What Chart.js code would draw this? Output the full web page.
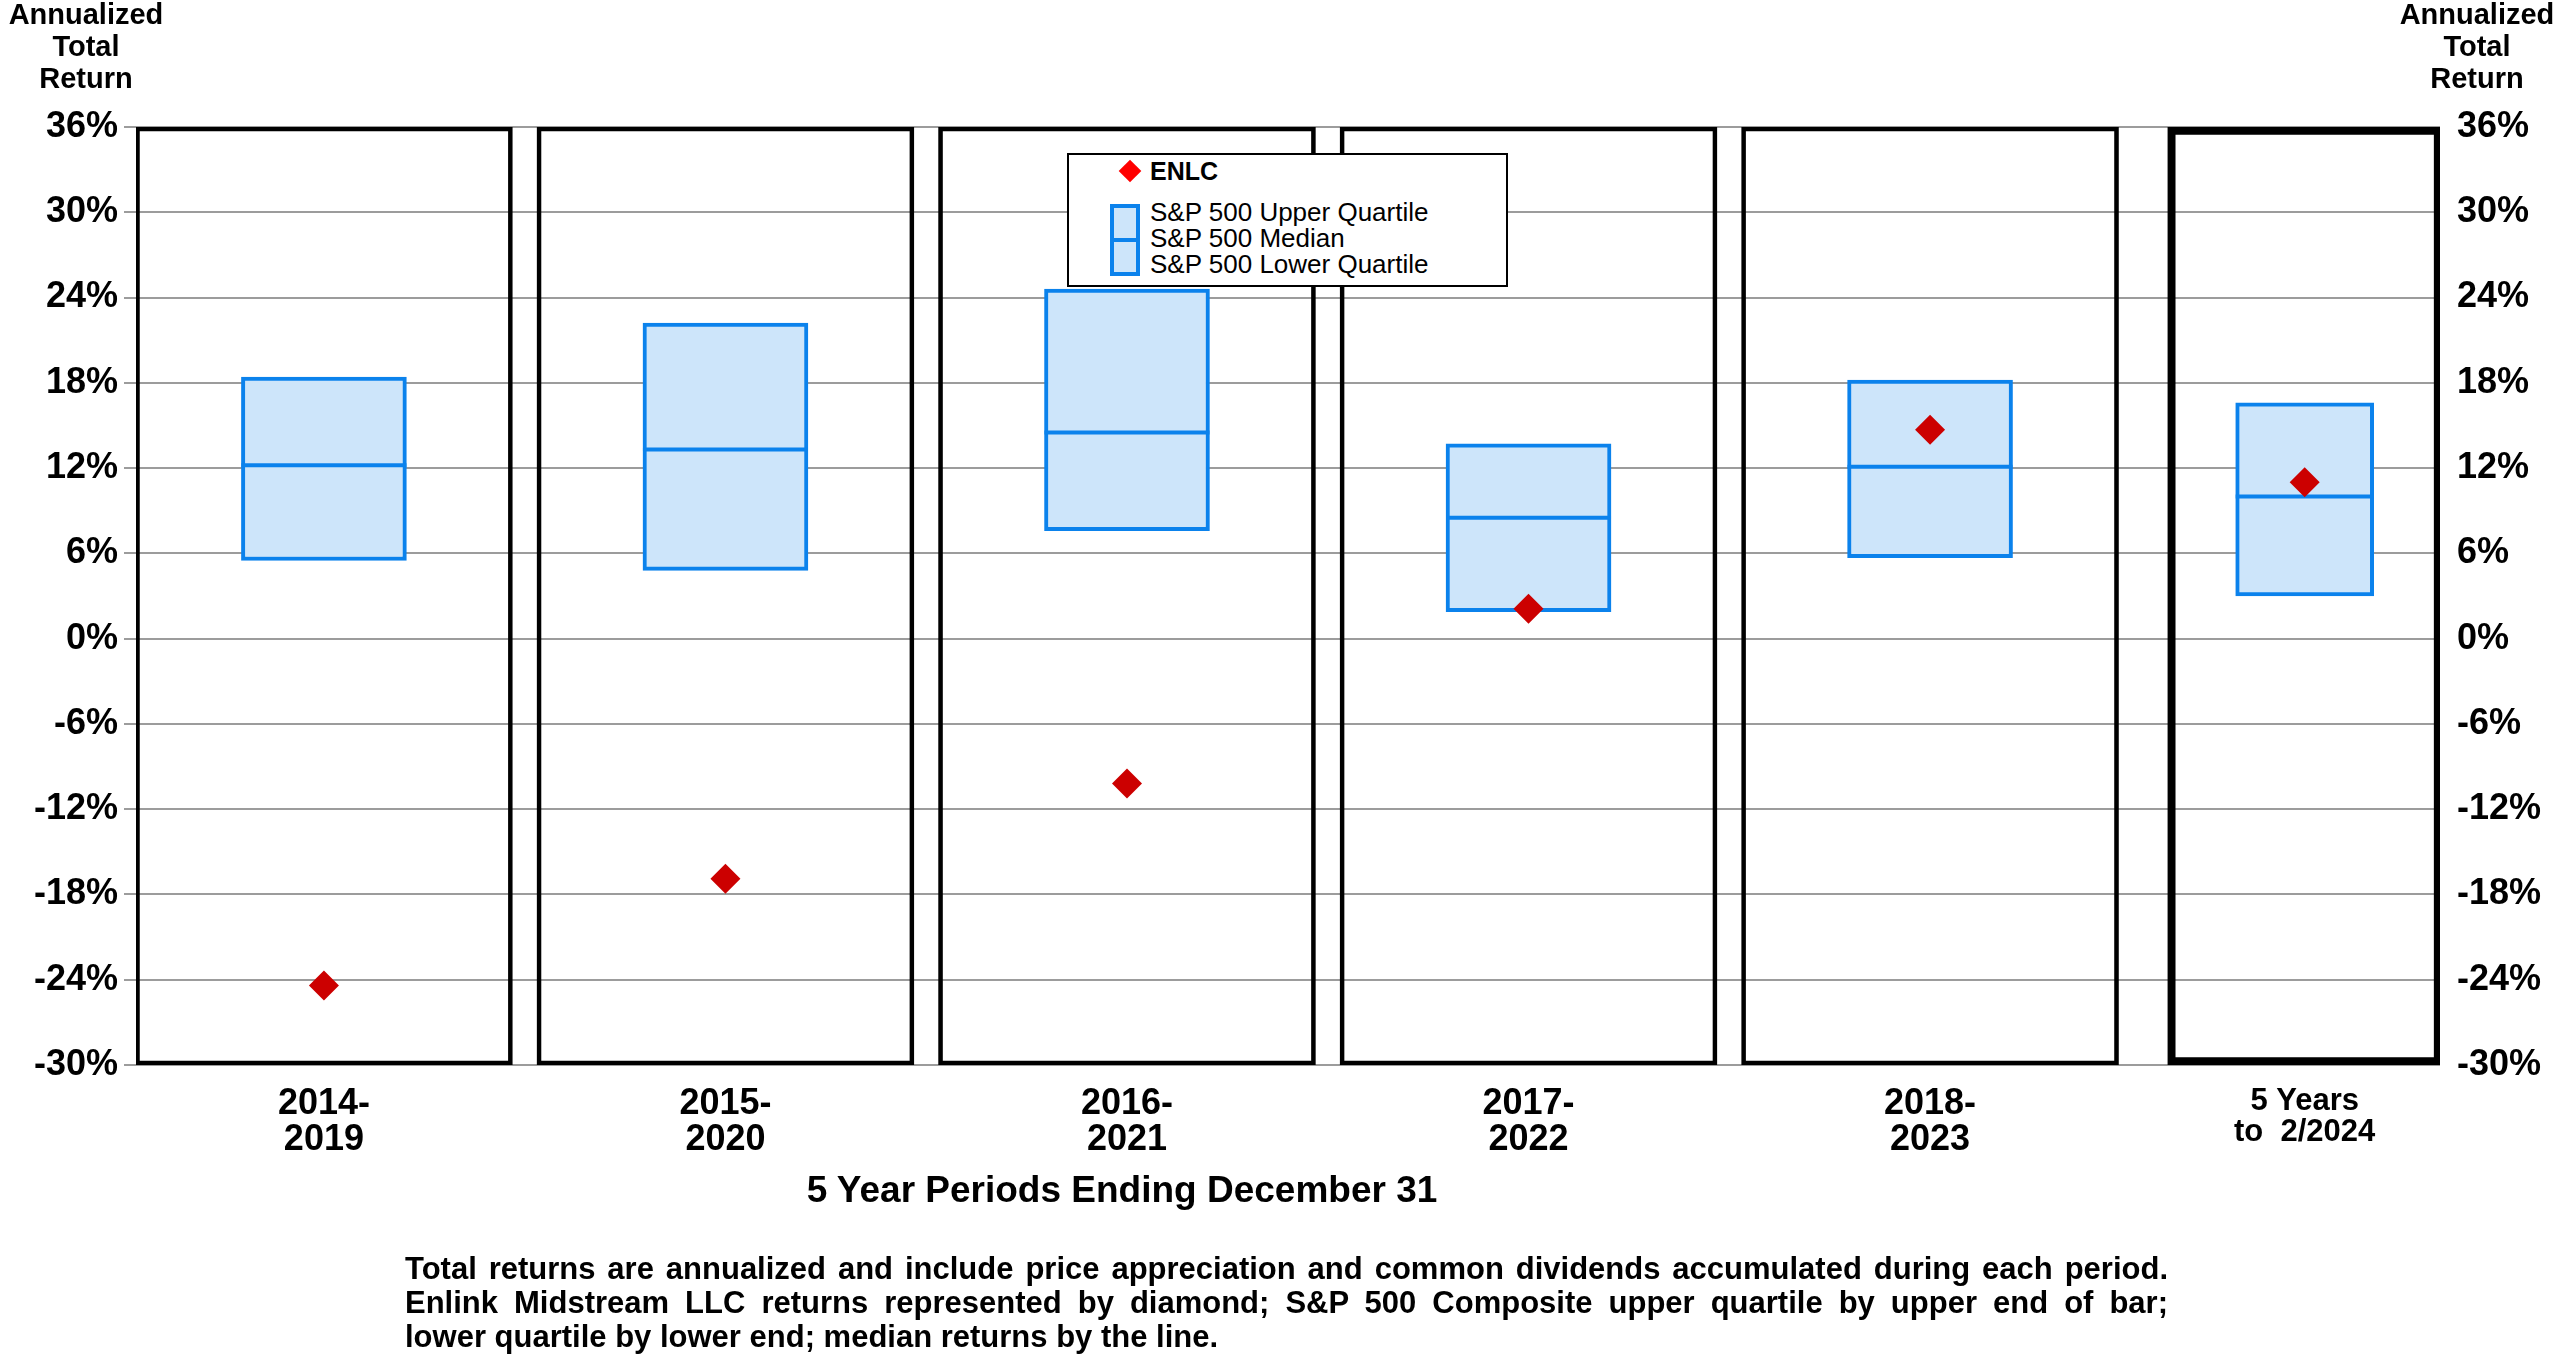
<!DOCTYPE html>
<html>
<head>
<meta charset="utf-8">
<script src="https://cdn.jsdelivr.net/npm/chart.js@4.4.1/dist/chart.umd.min.js"></script>
<style>
  body { margin: 0; background: #fff; }
  #wrap { position: relative; width: 2560px; height: 1367px; font-family: "Liberation Sans", Arial, sans-serif; color: #000; }
  #grafico { position: absolute; left: 0; top: 0; }
  .eixoTitulo { position: absolute; top: -2px; width: 180px; text-align: center; font-weight: bold; font-size: 29px; line-height: 32px; }
  #tituloX { position: absolute; left: 622px; top: 1170px; width: 1000px; text-align: center; font-weight: bold; font-size: 37px; line-height: 40px; }
  #nota { position: absolute; left: 405px; top: 1252px; width: 1763px; font-weight: bold; font-size: 31px; line-height: 34px; }
  #nota .just { text-align: justify; text-align-last: justify; }
  #legenda { position: absolute; left: 1067px; top: 153px; width: 441px; height: 134px; box-sizing: border-box; border: 2px solid #000; background: #fff; }
  #legenda .diamante { position: absolute; left: 53px; top: 8px; width: 16px; height: 16px; background: #ff0000; transform: rotate(45deg); }
  #legenda .enlc { position: absolute; left: 81px; top: 4px; font-weight: bold; font-size: 25px; line-height: 25px; }
  #legenda .caixa { position: absolute; left: 41px; top: 49px; width: 30px; height: 72px; box-sizing: border-box; border: 4px solid #0b82ec; background: #cde5fa; }
  #legenda .mediana { position: absolute; left: 0; right: 0; top: 30px; height: 4px; background: #0b82ec; }
  #legenda .itens { position: absolute; left: 81px; top: 44px; font-size: 26px; line-height: 26.2px; white-space: nowrap; }
</style>
</head>
<body>
<div id="wrap">
  <canvas id="grafico"></canvas>
  <div class="eixoTitulo" style="left:-4px">Annualized<br>Total<br>Return</div>
  <div class="eixoTitulo" style="left:2387px">Annualized<br>Total<br>Return</div>
  <div id="legenda">
    <div class="diamante"></div>
    <div class="enlc">ENLC</div>
    <div class="caixa"><div class="mediana"></div></div>
    <div class="itens">S&amp;P 500 Upper Quartile<br>S&amp;P 500 Median<br>S&amp;P 500 Lower Quartile</div>
  </div>
  <div id="tituloX">5 Year Periods Ending December 31</div>
  <div id="nota">
    <div class="just">Total returns are annualized and include price appreciation and common dividends accumulated during each period.</div>
    <div class="just">Enlink Midstream LLC returns represented by diamond; S&amp;P 500 Composite upper quartile by upper end of bar;</div>
    <div>lower quartile by lower end; median returns by the line.</div>
  </div>
</div>
<script>
const periodos = [['2014-', '2019'], ['2015-', '2020'], ['2016-', '2021'], ['2017-', '2022'], ['2018-', '2023'], ['5 Years', 'to  2/2024']];
const quartilSuperior = [18.4, 22.2, 24.6, 13.7, 18.2, 16.6];
const mediana = [12.2, 13.3, 14.5, 8.5, 12.1, 10.0];
const quartilInferior = [5.5, 4.8, 7.6, 1.9, 5.7, 3.0];
const retornoEnlc = [-24.4, -16.9, -10.2, 2.1, 14.7, 11.0];
const yMin = -30;
const yMax = 36;
const yPasso = 6;

// posicao de cada painel no eixo x (o ultimo fica mais perto)
const posicaoX = [0, 1, 2, 3, 4, 4.933];

const azul = '#0b82ec';
const azulClaro = '#cde5fa';

const canvas = document.querySelector('#grafico');
canvas.width = 2560;
canvas.height = 1367;

const cinco = posicaoX.slice(0, 5);
const ultimo = posicaoX.slice(5);

function caixas(xs, inicio) {
  return xs.map((x, i) => ({ x: x, y: [quartilInferior[inicio + i], quartilSuperior[inicio + i]] }));
}

const grafico = new Chart(canvas, {
  type: 'bar',
  data: {
    datasets: [
      {
        label: 'painel',
        data: cinco.map(x => ({ x: x, y: [yMin, yMax] })),
        backgroundColor: 'rgba(0,0,0,0)',
        borderColor: '#000',
        borderWidth: 4,
        borderSkipped: false,
        barThickness: 377,
        grouped: false,
        order: 4
      },
      {
        label: 'painel ultimo',
        data: ultimo.map(x => ({ x: x, y: [yMin, yMax] })),
        backgroundColor: 'rgba(0,0,0,0)',
        borderColor: '#000',
        borderWidth: 7.5,
        borderSkipped: false,
        barThickness: 274,
        grouped: false,
        order: 4
      },
      {
        label: 'S&P 500 Quartiles',
        data: caixas(cinco, 0),
        backgroundColor: azulClaro,
        borderColor: azul,
        borderWidth: 4,
        borderSkipped: false,
        barThickness: 165,
        grouped: false,
        order: 3
      },
      {
        label: 'S&P 500 Quartiles 5 Years',
        data: caixas(ultimo, 5),
        backgroundColor: azulClaro,
        borderColor: azul,
        borderWidth: 4,
        borderSkipped: false,
        barThickness: 138,
        grouped: false,
        order: 3
      },
      {
        type: 'line',
        label: 'S&P 500 Median',
        data: posicaoX.map((x, i) => ({ x: x, y: mediana[i] })),
        showLine: false,
        pointStyle: 'line',
        pointRadius: ctx => ctx.dataIndex === 5 ? 69 : 82.5,
        pointBorderWidth: 4,
        pointBorderColor: azul,
        order: 2
      },
      {
        type: 'line',
        label: 'ENLC',
        data: posicaoX.map((x, i) => ({ x: x, y: retornoEnlc[i] })),
        showLine: false,
        pointStyle: 'rectRot',
        pointRadius: 15,
        pointBorderWidth: 0,
        pointBackgroundColor: '#cc0000',
        order: 1
      }
    ]
  },
  options: {
    responsive: false,
    animation: false,
    devicePixelRatio: 1,
    events: [],
    layout: { padding: { top: 127, left: 0, right: 0, bottom: 0 } },
    plugins: { legend: { display: false }, tooltip: { enabled: false } },
    scales: {
      x: {
        type: 'linear',
        offset: false,
        min: -0.468,
        max: 5.27,
        grid: { display: false, drawTicks: false },
        border: { display: false },
        afterBuildTicks: s => { s.ticks = posicaoX.map(v => ({ value: v })); },
        afterFit: s => { s.height = 302; },
        ticks: {
          autoSkip: false,
          maxRotation: 0,
          minRotation: 0,
          padding: 21,
          color: '#000',
          font: ctx => ctx.index === 5
            ? { family: 'Liberation Sans', size: 31, weight: 'bold', lineHeight: 1 }
            : { family: 'Liberation Sans', size: 36, weight: 'bold', lineHeight: 1 },
          callback: (valor, indice) => periodos[indice]
        }
      },
      y: {
        position: 'left',
        min: yMin,
        max: yMax,
        grid: { color: '#9c9c9c', lineWidth: 2, tickLength: 12 },
        border: { display: false },
        afterFit: s => { s.width = 136; },
        ticks: {
          stepSize: yPasso,
          padding: 6,
          color: '#000',
          font: { family: 'Liberation Sans', size: 36, weight: 'bold' },
          callback: v => v + '%'
        }
      },
      y2: {
        position: 'right',
        min: yMin,
        max: yMax,
        grid: { drawOnChartArea: false, drawTicks: false },
        border: { display: false },
        afterFit: s => { s.width = 120; },
        ticks: {
          stepSize: yPasso,
          padding: 17,
          color: '#000',
          font: { family: 'Liberation Sans', size: 36, weight: 'bold' },
          callback: v => v + '%'
        }
      }
    }
  }
});
</script>
</body>
</html>
